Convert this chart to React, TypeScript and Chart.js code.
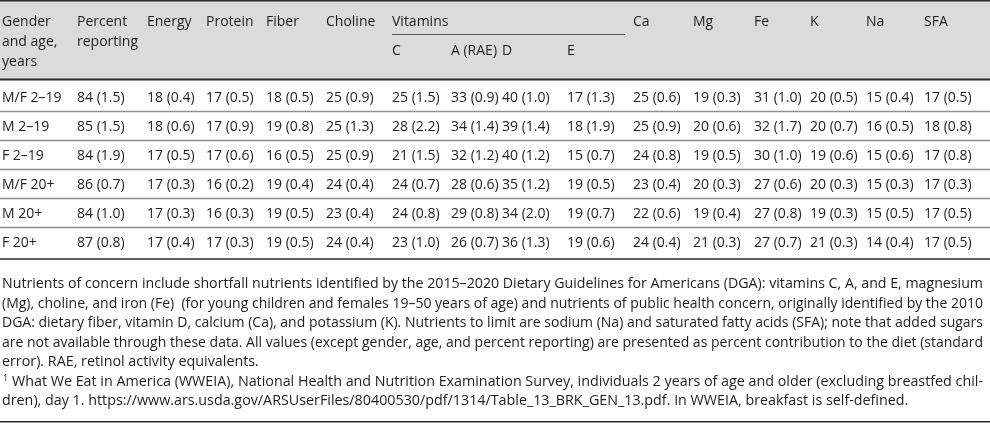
import React, { useEffect, useRef } from "react";
import { Chart, registerables } from "chart.js";

Chart.register(...registerables);

// ---------- data ----------
const groups = ["M/F 2–19", "M 2–19", "F 2–19", "M/F 20+", "M 20+", "F 20+"];

const percentReporting = [84, 85, 84, 86, 84, 87];
const percentReportingSE = [1.5, 1.5, 1.9, 0.7, 1.0, 0.8];
const energy = [18, 18, 17, 17, 17, 17];
const energySE = [0.4, 0.6, 0.5, 0.3, 0.3, 0.4];
const protein = [17, 17, 17, 16, 16, 17];
const proteinSE = [0.5, 0.9, 0.6, 0.2, 0.3, 0.3];
const fiber = [18, 19, 16, 19, 19, 19];
const fiberSE = [0.5, 0.8, 0.5, 0.4, 0.5, 0.5];
const choline = [25, 25, 25, 24, 23, 24];
const cholineSE = [0.9, 1.3, 0.9, 0.4, 0.4, 0.4];
const vitC = [25, 28, 21, 24, 24, 23];
const vitCSE = [1.5, 2.2, 1.5, 0.7, 0.8, 1.0];
const vitA = [33, 34, 32, 28, 29, 26];
const vitASE = [0.9, 1.4, 1.2, 0.6, 0.8, 0.7];
const vitD = [40, 39, 40, 35, 34, 36];
const vitDSE = [1.0, 1.4, 1.2, 1.2, 2.0, 1.3];
const vitE = [17, 18, 15, 19, 19, 19];
const vitESE = [1.3, 1.9, 0.7, 0.5, 0.7, 0.6];
const calcium = [25, 25, 24, 23, 22, 24];
const calciumSE = [0.6, 0.9, 0.8, 0.4, 0.6, 0.4];
const magnesium = [19, 20, 19, 20, 19, 21];
const magnesiumSE = [0.3, 0.6, 0.5, 0.3, 0.4, 0.3];
const iron = [31, 32, 30, 27, 27, 27];
const ironSE = [1.0, 1.7, 1.0, 0.6, 0.8, 0.7];
const potassium = [20, 20, 19, 20, 19, 21];
const potassiumSE = [0.5, 0.7, 0.6, 0.3, 0.3, 0.3];
const sodium = [15, 16, 15, 15, 15, 14];
const sodiumSE = [0.4, 0.5, 0.6, 0.3, 0.5, 0.4];
const sfa = [17, 18, 17, 17, 17, 17];
const sfaSE = [0.5, 0.8, 0.8, 0.3, 0.5, 0.5];

const headerTop = [
  ["Gender", "and age,", "years"],
  ["Percent", "reporting"],
  ["Energy"],
  ["Protein"],
  ["Fiber"],
  ["Choline"],
  ["Vitamins"],
  [],
  [],
  [],
  ["Ca"],
  ["Mg"],
  ["Fe"],
  ["K"],
  ["Na"],
  ["SFA"],
];
const vitaminSubHeaders = ["C", "A (RAE)", "D", "E"];

const footnoteLines = [
  "Nutrients of concern include shortfall nutrients identified by the 2015–2020 Dietary Guidelines for Americans (DGA): vitamins C, A, and E, magnesium",
  "(Mg), choline, and iron (Fe)  (for young children and females 19–50 years of age) and nutrients of public health concern, originally identified by the 2010",
  "DGA: dietary fiber, vitamin D, calcium (Ca), and potassium (K). Nutrients to limit are sodium (Na) and saturated fatty acids (SFA); note that added sugars",
  "are not available through these data. All values (except gender, age, and percent reporting) are presented as percent contribution to the diet (standard",
  "error). RAE, retinol activity equivalents.",
];
const sourceMark = "1";
const sourceLines = [
  "What We Eat in America (WWEIA), National Health and Nutrition Examination Survey, individuals 2 years of age and older (excluding breastfed chil-",
  "dren), day 1. https://www.ars.usda.gov/ARSUserFiles/80400530/pdf/1314/Table_13_BRK_GEN_13.pdf. In WWEIA, breakfast is self-defined.",
];

// ---------- layout (pixel units of the chart's x / y scales) ----------
const W = 990;
const H = 423;
const colX = [2, 77, 147, 206, 266, 326, 392, 451, 502, 567, 633, 693, 754, 810, 866, 924];
const vitLine = { x0: 392, x1: 625, y: 34.5 };
const headerBaselines = [26, 46, 66];
const subHeaderBaseline = 55;
const headerBottom = 79.5;
const rowFirstCenter = 97;
const rowPitch = 29;
const tableBottom = 259;
const footBaseline0 = 288;
const footPitch = 19.5;
const justifyRight = 983;
const FONT = '14px "Open Sans", sans-serif';
const FOOT_FONT = '14.3px "Open Sans", sans-serif';
const TEXT = "#1e1e1e";

const valueCols: [number[], number[]][] = [
  [percentReporting, percentReportingSE],
  [energy, energySE],
  [protein, proteinSE],
  [fiber, fiberSE],
  [choline, cholineSE],
  [vitC, vitCSE],
  [vitA, vitASE],
  [vitD, vitDSE],
  [vitE, vitESE],
  [calcium, calciumSE],
  [magnesium, magnesiumSE],
  [iron, ironSE],
  [potassium, potassiumSE],
  [sodium, sodiumSE],
  [sfa, sfaSE],
];

function cellTexts(): string[][] {
  const cols: string[][] = [groups.slice()];
  valueCols.forEach(([v, se]) => {
    cols.push(v.map((m, i) => `${m} (${se[i].toFixed(1)})`));
  });
  return cols;
}

function drawJustified(ctx: CanvasRenderingContext2D, text: string, x0: number, x1: number, y: number) {
  const words = text.split(" ");
  const widths = words.map((w) => ctx.measureText(w).width);
  const sum = widths.reduce((a, b) => a + b, 0);
  const space = ctx.measureText(" ").width;
  const gaps = words.length - 1;
  const target = x1 - x0;
  const natural = sum + gaps * space;
  if (natural > target) {
    ctx.save();
    ctx.translate(x0, y);
    ctx.scale(target / natural, 1);
    ctx.fillText(text, 0, 0);
    ctx.restore();
    return;
  }
  const gap = gaps > 0 ? (target - sum) / gaps : 0;
  let x = x0;
  words.forEach((w, i) => {
    if (w.length) ctx.fillText(w, x, y);
    x += widths[i] + gap;
  });
}

function drawLeft(ctx: CanvasRenderingContext2D, text: string, x0: number, x1: number, y: number) {
  const w = ctx.measureText(text).width;
  if (w > x1 - x0) {
    ctx.save();
    ctx.translate(x0, y);
    ctx.scale((x1 - x0) / w, 1);
    ctx.fillText(text, 0, 0);
    ctx.restore();
  } else ctx.fillText(text, x0, y);
}

const tablePlugin = {
  id: "tablePlugin",
  beforeDraw(chart: any) {
    const { ctx } = chart;
    const sx = chart.scales.x;
    const sy = chart.scales.y;
    const px = (v: number) => sx.getPixelForValue(v);
    const py = (v: number) => sy.getPixelForValue(v);
    ctx.save();
    ctx.fillStyle = "#ffffff";
    ctx.fillRect(0, 0, chart.width, chart.height);
    ctx.fillStyle = "#dbdbdb";
    ctx.fillRect(px(0), py(1), px(W) - px(0), py(headerBottom) - py(1));
    ctx.restore();
  },
  afterDatasetsDraw(chart: any) {
    const { ctx } = chart;
    const sx = chart.scales.x;
    const sy = chart.scales.y;
    const px = (v: number) => sx.getPixelForValue(v);
    const py = (v: number) => sy.getPixelForValue(v);
    ctx.save();

    const hline = (y: number, x0: number, x1: number, color: string, lw: number) => {
      ctx.beginPath();
      ctx.strokeStyle = color;
      ctx.lineWidth = lw;
      ctx.moveTo(px(x0), py(y));
      ctx.lineTo(px(x1), py(y));
      ctx.stroke();
    };

    // rules
    hline(0.75, 0, W, "#2a2a2a", 1.5);
    hline(headerBottom, 0, W, "#2a2a2a", 2);
    for (let r = 1; r < groups.length; r++) {
      hline(rowFirstCenter + rowPitch * (r - 0.5), 0, W, "#8f8f8f", 1.3);
    }
    hline(tableBottom, 0, W, "#2a2a2a", 1.5);
    hline(H - 1.25, 0, W, "#2a2a2a", 1.5);
    hline(vitLine.y, vitLine.x0, vitLine.x1, "#5a5a5a", 1);

    ctx.fillStyle = TEXT;
    ctx.font = FONT;
    ctx.textBaseline = "alphabetic";
    ctx.textAlign = "left";

    // header
    headerTop.forEach((lines, c) => {
      lines.forEach((t, k) => ctx.fillText(t, px(colX[c]), py(headerBaselines[k])));
    });
    vitaminSubHeaders.forEach((t, k) => ctx.fillText(t, px(colX[6 + k]), py(subHeaderBaseline)));

    // body cells, positioned by the dataset elements
    chart.data.datasets.forEach((ds: any, di: number) => {
      const meta = chart.getDatasetMeta(di);
      meta.data.forEach((el: any, i: number) => {
        ctx.fillText(ds.cellText[i], el.x, el.y + 5);
      });
    });

    // footnotes
    ctx.font = FOOT_FONT;
    footnoteLines.forEach((t, i) => {
      const y = py(footBaseline0 + footPitch * i);
      if (i < footnoteLines.length - 1) drawJustified(ctx, t, px(2), px(justifyRight), y);
      else drawLeft(ctx, t, px(2), px(justifyRight), y);
    });
    const y5 = py(footBaseline0 + footPitch * footnoteLines.length);
    ctx.font = '9px "Open Sans", sans-serif';
    ctx.fillText(sourceMark, px(3), y5 - 5);
    ctx.font = FOOT_FONT;
    drawJustified(ctx, sourceLines[0], px(12), px(justifyRight), y5);
    drawLeft(ctx, sourceLines[1], px(2), px(justifyRight), py(footBaseline0 + footPitch * (footnoteLines.length + 1)));

    ctx.restore();
  },
};

export default function App() {
  const ref = useRef<HTMLCanvasElement | null>(null);
  useEffect(() => {
    document.body.style.margin = "0";
    const canvas = ref.current;
    if (!canvas) return;
    const texts = cellTexts();
    const datasets = texts.map((col, c) => ({
      label: c === 0 ? "Gender and age" : `col${c}`,
      data: col.map((_, r) => ({ x: colX[c], y: rowFirstCenter + rowPitch * r })),
      cellText: col,
      pointRadius: 0,
      pointHoverRadius: 0,
      showLine: false,
    }));
    const chart = new Chart(canvas, {
      type: "scatter",
      data: { datasets: datasets as any },
      options: {
        animation: false,
        responsive: false,
        devicePixelRatio: 1,
        events: [],
        layout: { padding: 0 },
        plugins: { legend: { display: false }, tooltip: { enabled: false } },
        scales: {
          x: { type: "linear", min: 0, max: W, display: false },
          y: { type: "linear", min: 0, max: H, reverse: true, display: false },
        },
      },
      plugins: [tablePlugin],
    });
    return () => chart.destroy();
  }, []);
  return (
    <div style={{ width: W, height: H }}>
      <canvas ref={ref} width={W} height={H} style={{ display: "block", width: W, height: H }} />
    </div>
  );
}
